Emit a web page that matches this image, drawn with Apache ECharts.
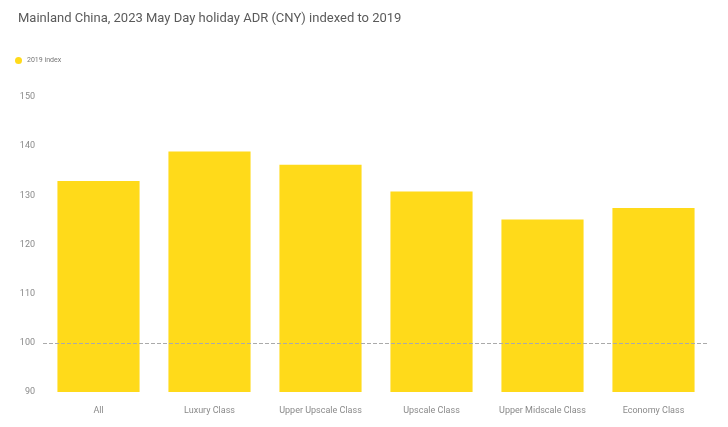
<!DOCTYPE html>
<html>
<head>
<meta charset="utf-8">
<script src="https://cdn.jsdelivr.net/npm/echarts@6/dist/echarts.min.js"></script>
<style>
  html, body { margin: 0; padding: 0; background: #fff; }
  #chart { width: 728px; height: 427px; }
</style>
</head>
<body>
<div id="chart"></div>
<script>
// Hotel classes and their ADR index (2019 = 100)
const categories = ['All', 'Luxury Class', 'Upper Upscale Class', 'Upscale Class', 'Upper Midscale Class', 'Economy Class'];
const indexValues = [132.9, 138.9, 136.2, 130.8, 125.1, 127.4];
const yTicks = [90, 100, 110, 120, 130, 140, 150];
const baselineValue = 100;
const seriesName = '2019 index';

const chart = echarts.init(document.getElementById('chart'));
chart.setOption({
  animation: false,
  title: {
    text: 'Mainland China, 2023 May Day holiday ADR (CNY) indexed to 2019',
    left: 13,
    top: 7,
    textStyle: { fontFamily: 'Roboto', fontSize: 13, fontWeight: 'normal', color: '#5a5a5a' }
  },
  legend: {
    left: 10,
    top: 52,
    icon: 'circle',
    itemWidth: 7,
    itemHeight: 7,
    itemGap: 4,
    textStyle: { fontFamily: 'Roboto', fontSize: 7, color: '#777' },
    data: [seriesName]
  },
  grid: { left: 43, right: 19, top: 97, bottom: 35 },
  xAxis: {
    type: 'category',
    data: categories,
    axisLine: { show: false },
    axisTick: { show: false },
    axisLabel: { interval: 0, fontFamily: 'Roboto', fontSize: 9, color: '#8a8a8a', margin: 14 }
  },
  yAxis: {
    type: 'value',
    min: yTicks[0],
    max: yTicks[yTicks.length - 1],
    interval: 10,
    splitLine: { show: false },
    axisLine: { show: false },
    axisTick: { show: false },
    axisLabel: { fontFamily: 'Roboto', fontSize: 9, color: '#8a8a8a', margin: 8 }
  },
  series: [{
    name: seriesName,
    type: 'bar',
    data: indexValues,
    barCategoryGap: '26%',
    itemStyle: { color: '#FFDA1A' },
    markLine: {
      silent: true,
      symbol: 'none',
      label: { show: false },
      lineStyle: { color: '#aaa', type: 'dashed', width: 1 },
      data: [{ yAxis: baselineValue }]
    },
    z: 2
  }]
});
</script>
</body>
</html>
